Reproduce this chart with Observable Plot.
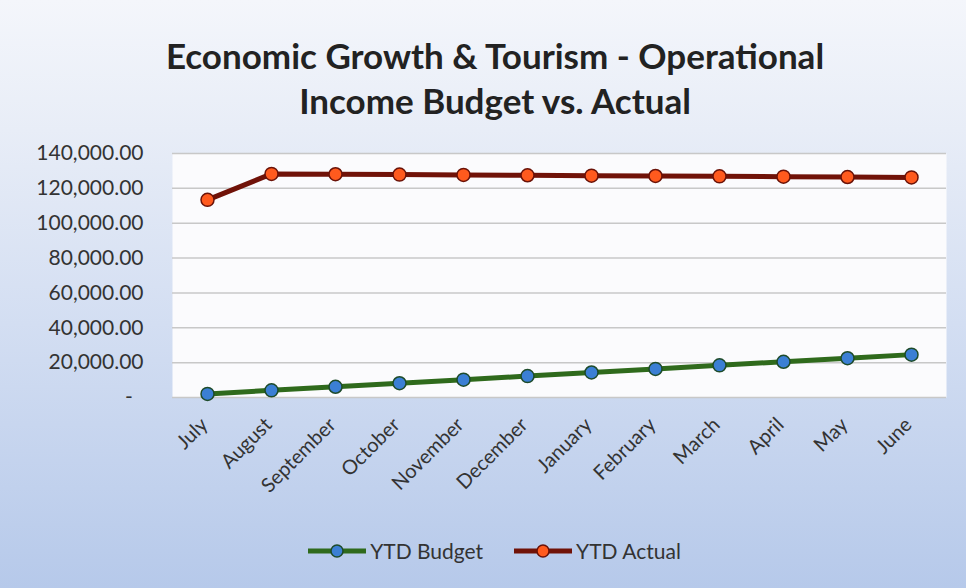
<!DOCTYPE html>
<html><head><meta charset="utf-8">
<script src="https://cdn.jsdelivr.net/npm/d3@7"></script>
<script src="https://cdn.jsdelivr.net/npm/@observablehq/plot@0.6"></script>
<style>
html,body{margin:0;padding:0;}
body{width:966px;height:588px;overflow:hidden;}
#wrap{position:relative;width:966px;height:588px;
 background:linear-gradient(180deg,#f4f6fb 0%,#e8edf7 22%,#d3def2 55%,#b6c9ea 100%);
 font-family:Lato,"Open Sans",sans-serif;}
#title{position:absolute;top:33px;left:0;width:990px;text-align:center;font-weight:bold;font-size:35px;line-height:45px;color:#222;}
#chart{position:absolute;top:130px;left:0;}
#legend{position:absolute;top:538px;left:0;width:988px;display:flex;justify-content:center;gap:30px;font-size:21px;color:#333;}
.item{display:flex;align-items:center;gap:3px;}
</style></head>
<body><div id="wrap">
<div id="title">Economic Growth &amp; Tourism - Operational<br>Income Budget vs. Actual</div>
<div id="chart"></div>
<div id="legend"></div>
</div>
<script>
const months = ["July","August","September","October","November","December","January","February","March","April","May","June"];
const ytdBudget = [2050,4100,6150,8200,10250,12300,14350,16400,18450,20500,22550,24600];
const ytdActual = [113400,128300,128100,127900,127700,127500,127300,127100,126900,126700,126500,126300];
const yTicks = [0,20000,40000,60000,80000,100000,120000,140000];
const seriesNames = ["YTD Budget","YTD Actual"];
const lineColors = ["#2f6a1c","#701208"];
const dotColors = ["#3b7fd4","#ff5a1e"];
const dotStrokes = ["#1e4b2a","#6a1208"];

const rows = [];
months.forEach((m,i)=>{
  rows.push({month:m, value:ytdBudget[i], series:seriesNames[0]});
  rows.push({month:m, value:ytdActual[i], series:seriesNames[1]});
});
const fmt = d3.format(",.2f");
const yFmt = d=> d===0 ? "-  " : fmt(d);
const plot = Plot.plot({
  width:966, height:390,
  marginTop:23, marginBottom:123, marginLeft:172, marginRight:20,
  style:{background:"transparent", fontFamily:"Lato, 'Open Sans', sans-serif"},
  x:{type:"point", domain:months, padding:0.5, label:null},
  y:{domain:[0,140000], label:null},
  marks:[
    Plot.frame({fill:"#fbfbfd", stroke:null}),
    Plot.gridY(yTicks,{stroke:"#c8c8c8", strokeOpacity:1, strokeWidth:1.5}),
    Plot.axisY({ticks:yTicks, tickSize:0, tickPadding:29, fontSize:21, fill:"#333", tickFormat:yFmt}),
    Plot.axisX({tickSize:0, tickRotate:-45, tickPadding:24, fontSize:20, fill:"#333", dx:-3}),
    Plot.line(rows.filter(r=>r.series===seriesNames[0]),{x:"month",y:"value",stroke:lineColors[0],strokeWidth:5}),
    Plot.line(rows.filter(r=>r.series===seriesNames[1]),{x:"month",y:"value",stroke:lineColors[1],strokeWidth:5}),
    Plot.dot(rows.filter(r=>r.series===seriesNames[0]),{x:"month",y:"value",r:6.5,fill:dotColors[0],stroke:dotStrokes[0],strokeWidth:1.5}),
    Plot.dot(rows.filter(r=>r.series===seriesNames[1]),{x:"month",y:"value",r:6.5,fill:dotColors[1],stroke:dotStrokes[1],strokeWidth:1.5})
  ]
});
document.getElementById("chart").appendChild(plot);

const leg = document.getElementById("legend");
seriesNames.forEach((s,i)=>{
  const it = document.createElement("div"); it.className="item";
  it.innerHTML = `<svg width="60" height="16"><line x1="1" y1="8" x2="59" y2="8" stroke="${lineColors[i]}" stroke-width="5"/><circle cx="30" cy="8" r="6" fill="${dotColors[i]}" stroke="${dotStrokes[i]}" stroke-width="1.5"/></svg><span>${s}</span>`;
  leg.appendChild(it);
});
</script>
</body></html>
